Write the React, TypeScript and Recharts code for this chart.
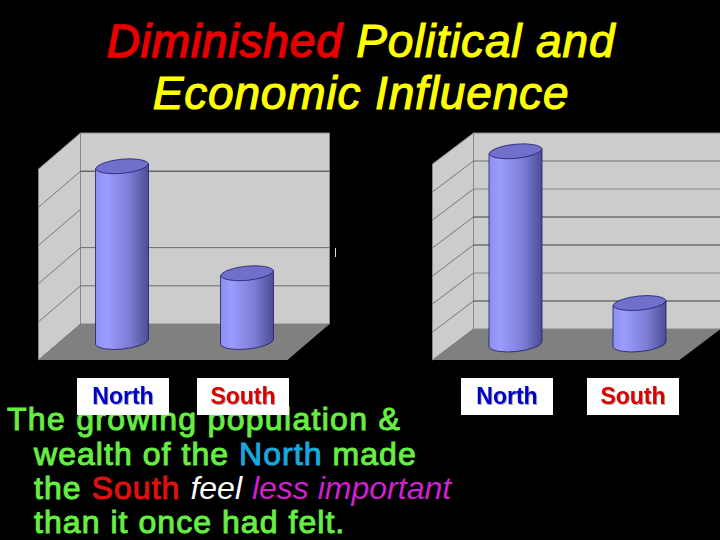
import { BarChart, Bar, XAxis, YAxis, usePlotArea } from 'recharts'

const categories = ['North', 'South']
const populationValues = [23, 9]
const wealthValues = [34.5, 7.4]
const populationTicks = [5, 10, 15, 20]
const wealthTicks = [5, 10, 15, 20, 25, 30]

const FONT = 'Arial, "Liberation Sans", sans-serif'
const LABEL_COLORS = ['#0000CC', '#DD0000']

function toRows(values: number[]) {
  return categories.map((name, i) => ({ name, value: values[i] }))
}

// the chart box: back wall, side wall and floor around the value scale
function Walls({ max, ticks, depthX, depthY, backColors, hideBack }: any) {
  const plot = usePlotArea()
  if (!plot) return null
  const yOf = (v: number) => plot.y + plot.height * (1 - v / max)
  const left = plot.x
  const floorW = plot.width - 1
  const base = yOf(0)
  const top = yOf(max)
  return (
    <g>
      <polygon
        points={`${left + depthX},${top - depthY} ${left + depthX + floorW},${top - depthY} ${left + depthX + floorW},${base - depthY} ${left + depthX},${base - depthY}`}
        fill="#CCCCCC"
        stroke="#8A8A8A"
      />
      <polygon
        points={`${left - depthX},${top + depthY} ${left + depthX},${top - depthY} ${left + depthX},${base - depthY} ${left - depthX},${base + depthY}`}
        fill="#CCCCCC"
        stroke="#8A8A8A"
      />
      <polygon
        points={`${left - depthX},${base + depthY} ${left + depthX},${base - depthY} ${left + depthX + floorW},${base - depthY} ${left - depthX + floorW},${base + depthY}`}
        fill="#808080"
      />
      {ticks.map((t: number, i: number) => (
        <g key={t}>
          <line
            x1={left - depthX}
            y1={yOf(t) + depthY}
            x2={left + depthX}
            y2={yOf(t) - depthY}
            stroke="#555555"
            strokeWidth={0.7}
          />
          {!hideBack.includes(t) && (
            <line
              x1={left + depthX}
              y1={yOf(t) - depthY}
              x2={left + depthX + floorW}
              y2={yOf(t) - depthY}
              stroke={backColors[i]}
              strokeWidth={1}
            />
          )}
        </g>
      ))}
    </g>
  )
}

function Cylinder({ x, y, width, height }: any) {
  const tilt = 2.6
  const rx = width / 2 + 0.3
  const ry = 8
  const bottom = y + height
  const body = `M${x},${y + tilt} L${x},${bottom + tilt} A${rx},${ry} -5.6 0 0 ${x + width},${bottom - tilt} L${x + width},${y - tilt} Z`
  const cap = `M${x},${y + tilt} A${rx},${ry} -5.6 0 1 ${x + width},${y - tilt} A${rx},${ry} -5.6 0 1 ${x},${y + tilt} Z`
  return (
    <g stroke="#1C1C66" strokeWidth={0.8}>
      <path d={body} fill="url(#cylinderBody)" />
      <path d={cap} fill="#7070CC" />
    </g>
  )
}

function LabelBox({ x, payload, index, shifts }: any) {
  const cx = x + shifts[index]
  return (
    <g>
      <rect x={cx - 46} y={378} width={92} height={37} fill="#FFFFFF" />
      <text
        x={cx}
        y={404}
        textAnchor="middle"
        fontFamily={FONT}
        fontWeight="bold"
        fontSize={23}
        fill={LABEL_COLORS[index]}
        style={{ filter: 'drop-shadow(1px 1px 0.5px #AAAAAA)' }}
      >
        {payload.value}
      </text>
    </g>
  )
}

function Panel({ values, max, ticks, style, width, margin, depthX, depthY, backColors, hideBack, shifts }: any) {
  return (
    <div style={{ position: 'absolute', top: 0, ...style }}>
      <BarChart width={width} height={420} data={toRows(values)} margin={margin} barSize={53}>
        <defs>
          <linearGradient id="cylinderBody" x1="0" y1="0" x2="1" y2="0">
            <stop offset="0" stopColor="#8E8EF2" />
            <stop offset="0.2" stopColor="#9C9CFF" />
            <stop offset="0.65" stopColor="#7C7CD4" />
            <stop offset="1" stopColor="#4C4C96" />
          </linearGradient>
        </defs>
        <Walls max={max} ticks={ticks} depthX={depthX} depthY={depthY} backColors={backColors} hideBack={hideBack} />
        <XAxis
          dataKey="name"
          axisLine={false}
          tickLine={false}
          tickSize={0}
          tickMargin={0}
          height={40}
          interval={0}
          tick={(p: any) => <LabelBox {...p} shifts={shifts} />}
        />
        <YAxis hide domain={[0, max]} />
        <Bar dataKey="value" fill="#9999FF" shape={<Cylinder />} isAnimationActive={false} />
      </BarChart>
    </div>
  )
}

const lineStyle = (left: number, top: number, spacing = 1.05) => ({
  position: 'absolute' as const,
  left,
  top,
  letterSpacing: spacing,
  whiteSpace: 'nowrap' as const,
})

const italicPart = (color: string) => ({
  color,
  fontStyle: 'italic',
  letterSpacing: 0,
  WebkitTextStroke: '0px',
})

export default function App() {
  return (
    <div
      style={{
        position: 'absolute',
        left: 0,
        top: 0,
        width: 720,
        height: 540,
        background: '#000000',
        overflow: 'hidden',
        fontFamily: FONT,
      }}
    >
      <div
        style={{
          position: 'absolute',
          left: 0,
          top: 15,
          width: 722,
          textAlign: 'center',
          fontSize: 46,
          lineHeight: '52px',
          fontStyle: 'italic',
          letterSpacing: 0.85,
          WebkitTextStroke: '1.1px #FFFF00',
          color: '#FFFF00',
        }}
      >
        <span style={{ color: '#E80000', WebkitTextStroke: '1.5px #E80000' }}>Diminished</span> Political and
        <br />
        Economic Influence
      </div>

      <div
        style={{
          fontSize: 32,
          lineHeight: '36px',
          WebkitTextStroke: '1px #66EE44',
          color: '#66EE44',
        }}
      >
        <div style={lineStyle(7, 401, 1.3)}>The growing population &amp;</div>
        <div style={lineStyle(34, 436)}>
          wealth of the <span style={{ color: '#1AA7DD', WebkitTextStroke: '1px #1AA7DD' }}>North</span> made
        </div>
        <div style={lineStyle(34, 470)}>
          the <span style={{ color: '#E01010', WebkitTextStroke: '1px #E01010' }}>South</span>{' '}
          <span style={italicPart('#FFFFFF')}>feel</span> <span style={italicPart('#D020D0')}>less important</span>
        </div>
        <div style={lineStyle(34, 504)}>than it once had felt.</div>
      </div>

      <Panel
        values={populationValues}
        max={25}
        ticks={populationTicks}
        width={360}
        style={{ left: 0 }}
        margin={{ top: 151, right: 50.5, bottom: 38, left: 59.5 }}
        depthX={21}
        depthY={18}
        backColors={['#6E6E6E', '#6E6E6E', '#7C7C7C', '#383838']}
        hideBack={[15]}
        shifts={[1, -4]}
      />
      <Panel
        values={wealthValues}
        max={35}
        ticks={wealthTicks}
        width={320}
        style={{ left: 400 }}
        margin={{ top: 148.5, right: 19, bottom: 35.5, left: 53 }}
        depthX={20.5}
        depthY={15.5}
        backColors={['#404040', '#8A8A8A', '#404040', '#404040', '#8A8A8A', '#707070']}
        hideBack={[]}
        shifts={[-8, -6]}
      />

      <div style={{ position: 'absolute', left: 335, top: 248, width: 1, height: 9, background: '#DDDDDD' }} />
    </div>
  )
}
